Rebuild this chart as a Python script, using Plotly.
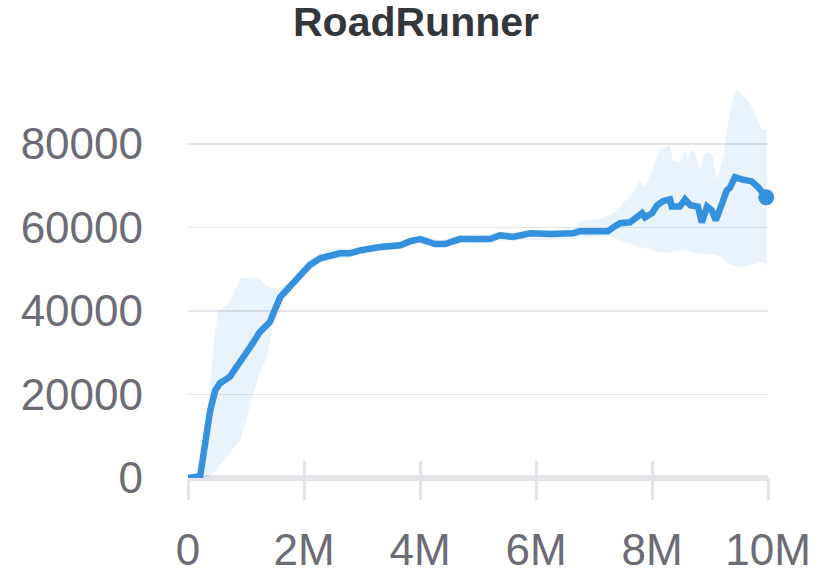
import plotly.graph_objects as go

# ---- data (x in millions of steps, y in thousands of score) ----
line_x_m = [0.0, 0.03, 0.21, 0.29, 0.38, 0.47, 0.55, 0.72, 0.90, 1.07, 1.24, 1.41, 1.59, 1.76,
            1.93, 2.10, 2.28, 2.62, 2.79, 2.97, 3.31, 3.66, 3.83, 4.00, 4.26, 4.43, 4.69,
            4.98, 5.21, 5.38, 5.60, 5.90, 6.24, 6.64, 6.76, 6.93, 7.24, 7.33, 7.45, 7.62,
            7.76, 7.83, 7.88, 8.00, 8.09, 8.19, 8.31, 8.34, 8.48, 8.57, 8.66, 8.79, 8.86,
            8.95, 9.03, 9.10, 9.21, 9.29, 9.34, 9.43, 9.55, 9.72, 9.83, 9.97]
line_y_k = [0.0, 0.0, 0.5, 7.4, 16.0, 21.0, 22.7, 24.2, 28.2, 31.3, 35.0, 37.3, 43.3, 45.7,
            48.6, 51.0, 52.6, 53.8, 53.8, 54.5, 55.3, 55.7, 56.7, 57.2, 56.0, 56.0, 57.2,
            57.0, 57.2, 58.1, 57.7, 58.6, 58.4, 58.6, 59.1, 59.1, 59.1, 60.0, 61.0, 61.2,
            62.4, 63.4, 62.4, 63.4, 65.3, 66.3, 66.7, 65.0, 65.0, 66.7, 65.3, 65.0, 61.2,
            65.0, 64.1, 61.7, 65.8, 68.9, 69.4, 72.0, 71.5, 71.0, 69.6, 67.2]

band_x_m = [0.0, 0.21, 0.29, 0.38, 0.43, 0.52, 0.72, 0.81, 0.90, 1.02, 1.10, 1.21, 1.36, 1.47,
            1.55, 1.67, 1.76, 1.93, 2.10, 2.28, 2.53, 2.79, 3.14, 3.66, 4.00, 4.34, 4.69,
            5.03, 5.38, 5.72, 6.07, 6.41, 6.67, 6.76, 7.10, 7.33, 7.50, 7.67, 7.79, 7.88,
            8.02, 8.14, 8.31, 8.36, 8.48, 8.57, 8.62, 8.66, 8.74, 8.83, 8.88, 8.97, 9.05,
            9.12, 9.24, 9.29, 9.34, 9.43, 9.52, 9.69, 9.90, 9.98]
band_hi_k = [0.0, 1.5, 8.0, 22.0, 30.6, 40.0, 42.0, 45.0, 47.8, 48.0, 47.5, 48.0, 46.0, 45.4,
             45.2, 46.0, 47.0, 50.0, 52.5, 54.0, 55.0, 55.0, 55.8, 56.7, 58.0, 57.0, 58.2,
             58.0, 59.0, 59.0, 59.2, 59.2, 60.0, 61.5, 62.0, 63.4, 65.8, 68.2, 71.3, 69.6,
             74.4, 78.5, 79.7, 76.0, 75.6, 78.5, 75.8, 78.5, 78.0, 73.7, 77.3, 78.0, 77.3,
             71.3, 78.0, 83.3, 87.3, 92.8, 92.3, 89.7, 83.3, 83.3]
band_lo_k = [0.0, 0.0, 0.0, 0.5, 1.0, 2.5, 6.0, 7.5, 9.0, 14.6, 19.0, 24.0, 29.0, 37.0,
             42.0, 44.5, 45.0, 47.5, 50.0, 51.5, 52.5, 52.8, 54.0, 54.8, 56.3, 55.2, 56.3,
             56.0, 56.8, 57.0, 57.0, 57.0, 57.3, 57.5, 57.8, 57.7, 56.5, 55.7, 55.3, 55.0,
             54.5, 54.0, 54.0, 54.2, 54.5, 54.5, 54.3, 54.2, 53.8, 53.6, 53.6, 53.6, 53.6,
             53.4, 52.5, 51.7, 51.2, 50.7, 50.2, 51.0, 51.7, 51.0]

x_tick_vals_m = [0, 2, 4, 6, 8, 10]
x_tick_text = ["0", "2M", "4M", "6M", "8M", "10M"]
y_tick_vals = [0, 20000, 40000, 60000, 80000]
y_tick_text = ["0", "20000", "40000", "60000", "80000"]
title_text = "RoadRunner"

# ---- build ----
M = 1_000_000
K = 1_000
lx = [v * M for v in line_x_m]
ly = [v * K for v in line_y_k]
bx = [v * M for v in band_x_m]
bhi = [v * K for v in band_hi_k]
blo = [v * K for v in band_lo_k]

LINE = "#3590dd"
BAND = "rgba(53,144,221,0.11)"
GRID = "#e4e4e8"
TICKC = "#6b6c76"
FONT = "Liberation Sans, Arial, sans-serif"

W, H = 832, 576

fig = go.Figure()
fig.add_trace(go.Scatter(x=bx, y=blo, mode="lines", line=dict(width=0, color=BAND),
                         hoverinfo="skip", showlegend=False))
fig.add_trace(go.Scatter(x=bx, y=bhi, mode="lines", line=dict(width=0, color=BAND),
                         fill="tonexty", fillcolor=BAND, hoverinfo="skip", showlegend=False))
fig.add_trace(go.Scatter(x=lx, y=ly, mode="lines", line=dict(width=6.5, color=LINE),
                         cliponaxis=False, showlegend=False))
fig.add_trace(go.Scatter(x=[lx[-1]], y=[ly[-1]], mode="markers",
                         marker=dict(size=16, color=LINE), cliponaxis=False, showlegend=False))
# invisible trace on the overlay axis so its inside ticks render
fig.add_trace(go.Scatter(x=[0], y=[0], xaxis="x2", mode="markers",
                         marker=dict(size=0, opacity=0), hoverinfo="skip", showlegend=False))

fig.update_layout(
    width=W, height=H,
    margin=dict(l=188, r=64, t=77, b=98, pad=0, autoexpand=False),
    paper_bgcolor="white", plot_bgcolor="white",
    font=dict(family=FONT, color=TICKC),
    title=dict(text=title_text, x=0.5, xref="container", xanchor="center",
               y=1 - 22 / H, yref="container", yanchor="middle",
               font=dict(family=FONT, size=41, color="#33363b", weight="bold")),
    xaxis=dict(range=[0, 10 * M], tickvals=[v * M for v in x_tick_vals_m], ticktext=x_tick_text,
               ticks="outside", ticklen=21, tickwidth=3, tickcolor=GRID,
               showgrid=False, zeroline=False, showline=False,
               tickfont=dict(size=44, color=TICKC), ticklabelstandoff=12),
    xaxis2=dict(range=[0, 10 * M], overlaying="x", side="bottom", anchor="y",
                tickvals=[v * M for v in x_tick_vals_m], showticklabels=False,
                ticks="inside", ticklen=17, tickwidth=3, tickcolor=GRID,
                showgrid=False, zeroline=False, showline=False),
    yaxis=dict(range=[0, 96 * K], tickvals=y_tick_vals, ticktext=y_tick_text, ticks="",
               showgrid=True, gridcolor=GRID, gridwidth=1.5,
               zeroline=True, zerolinecolor=GRID, zerolinewidth=6,
               showline=False, tickfont=dict(size=44, color=TICKC),
               ticklabelstandoff=44),
)

fig.write_html("out.html",
               config={"displayModeBar": False, "staticPlot": True},
               post_script="document.body.style.margin='0';document.body.style.overflow='hidden';")
